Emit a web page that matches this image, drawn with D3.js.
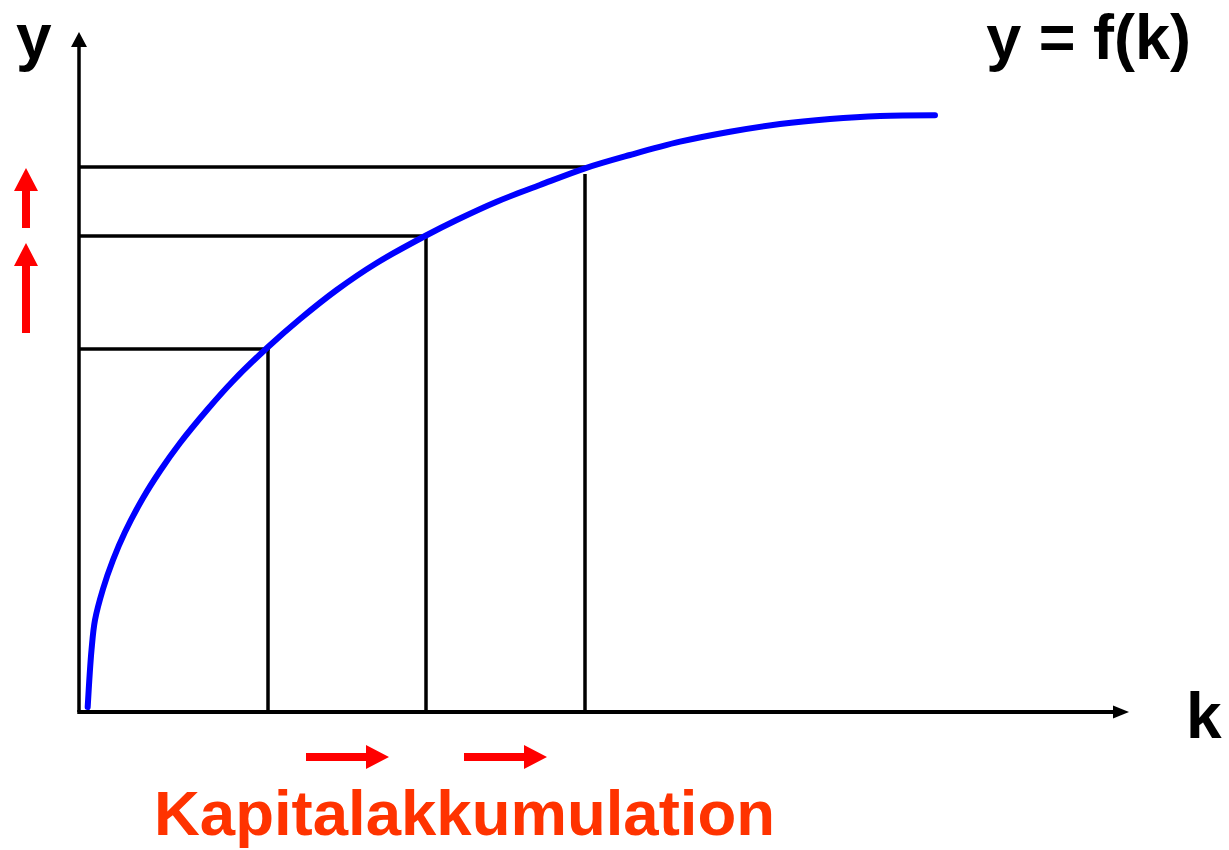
<!DOCTYPE html>
<html lang="de">
<head>
    <meta charset="UTF-8">
    <title>Kapitalakkumulation</title>
    <script src="https://cdnjs.cloudflare.com/ajax/libs/d3/7.8.5/d3.min.js"></script>
    <style>
        body { margin: 0; background: #fff; }
        text { font-family: "Liberation Sans", Arial, sans-serif; font-weight: bold; }
    </style>
</head>
<body>
    <svg width="1229" height="850"></svg>
    <script>
        "use strict";

        // production function y = f(k)
        const curveK = [0.087, 0.125, 0.16, 0.24, 0.34, 0.46, 0.64, 0.81, 1.01, 1.28, 1.54, 1.89, 2.21, 2.577, 2.977, 3.47, 3.777, 4.177, 4.61, 5.06, 5.51, 6.01, 6.51, 7.01, 7.51, 8.01, 8.56];
        const curveY = [0.05, 0.62, 0.92, 1.23, 1.52, 1.80, 2.14, 2.41, 2.69, 3.02, 3.31, 3.65, 3.93, 4.22, 4.49, 4.765, 4.92, 5.103, 5.27, 5.437, 5.57, 5.703, 5.803, 5.88, 5.93, 5.96, 5.967];

        // capital stock steps and their output levels
        const stepK = [1.89, 3.47, 5.06];
        const stepY = [3.63, 4.76, 5.45];

        // red arrows: [from, to] in axis units
        const kArrows = [[2.27, 3.10], [3.85, 4.68]];
        const yArrows = [[3.79, 4.69], [4.84, 5.44]];

        const svg = d3.select("svg");

        const x = d3.scaleLinear().domain([0, 10.5]).range([79, 1129]);
        const y = d3.scaleLinear().domain([0, 6.8]).range([712, 32]);

        // axes
        svg.append("line")
            .attr("x1", x(0)).attr("y1", y(0))
            .attr("x2", x(0)).attr("y2", y(6.8) + 12)
            .attr("stroke", "black").attr("stroke-width", 3.5);
        svg.append("path")
            .attr("d", `M${x(0)},${y(6.8)} L${x(0) - 8},${y(6.8) + 15} L${x(0) + 8},${y(6.8) + 15} Z`)
            .attr("fill", "black");

        svg.append("line")
            .attr("x1", x(0) - 1.75).attr("y1", y(0))
            .attr("x2", x(10.5) - 12).attr("y2", y(0))
            .attr("stroke", "black").attr("stroke-width", 4);
        svg.append("path")
            .attr("d", `M${x(10.5)},${y(0)} L${x(10.5) - 16},${y(0) - 6.5} L${x(10.5) - 16},${y(0) + 6.5} Z`)
            .attr("fill", "black");

        // step boxes
        const steps = stepK.map((k, i) => ({ k: k, v: stepY[i] }));
        svg.append("g").selectAll("line")
            .data(steps)
            .join("line")
            .attr("x1", x(0)).attr("x2", d => x(d.k) + 1.75)
            .attr("y1", d => y(d.v)).attr("y2", d => y(d.v))
            .attr("stroke", "black").attr("stroke-width", 3.5);
        svg.append("g").selectAll("line")
            .data(steps)
            .join("line")
            .attr("x1", d => x(d.k)).attr("x2", d => x(d.k))
            .attr("y1", (d, i) => y(d.v) + (i == 2 ? 7 : -1.75)).attr("y2", y(0))
            .attr("stroke", "black").attr("stroke-width", 3.5);

        // the curve
        const pts = curveK.map((k, i) => [k, curveY[i]]);
        svg.append("path")
            .datum(pts)
            .attr("d", d3.line().x(d => x(d[0])).y(d => y(d[1])).curve(d3.curveCatmullRom.alpha(0.5)))
            .attr("fill", "none")
            .attr("stroke", "#0000ff")
            .attr("stroke-width", 6)
            .attr("stroke-linecap", "round");

        // red arrows
        const shaft = 4, head = 12, headLen = 23;
        svg.append("g").selectAll("path")
            .data(kArrows)
            .join("path")
            .attr("d", d => {
                const a = x(d[0]), b = x(d[1]), c = 757, m = b - headLen;
                return `M${a},${c - shaft} L${m},${c - shaft} L${m},${c - head} L${b},${c} L${m},${c + head} L${m},${c + shaft} L${a},${c + shaft} Z`;
            })
            .attr("fill", "#ff0000");
        svg.append("g").selectAll("path")
            .data(yArrows)
            .join("path")
            .attr("d", d => {
                const a = y(d[0]), b = y(d[1]), c = 26, m = b + headLen;
                return `M${c - shaft},${a} L${c - shaft},${m} L${c - head},${m} L${c},${b} L${c + head},${m} L${c + shaft},${m} L${c + shaft},${a} Z`;
            })
            .attr("fill", "#ff0000");

        // labels
        svg.append("text").attr("x", 16).attr("y", 59).attr("font-size", 64).text("y");
        svg.append("text").attr("x", 1186).attr("y", 738).attr("font-size", 64).text("k");
        svg.append("text").attr("x", 1191).attr("y", 59).attr("font-size", 63)
            .attr("text-anchor", "end").text("y = f(k)");
        svg.append("text").attr("x", 154).attr("y", 835).attr("font-size", 63.5)
            .attr("fill", "#ff3300").text("Kapitalakkumulation");
    </script>
</body>
</html>
